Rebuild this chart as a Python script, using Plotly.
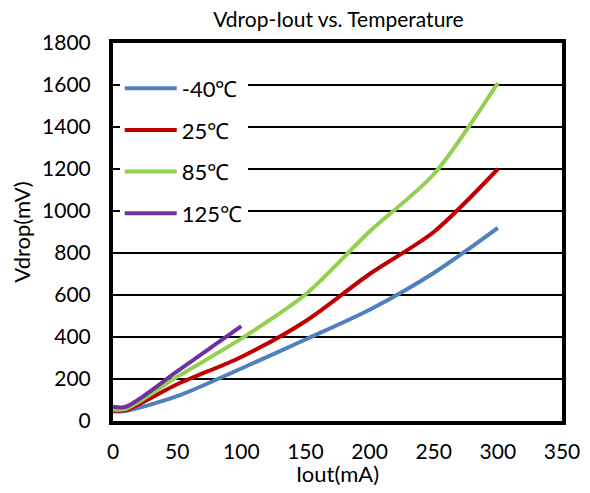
import plotly.graph_objects as go

iout = [0, 10, 50, 100, 150, 200, 250, 300]
v_m40 = [45, 48, 118, 250, 388, 530, 705, 920]
v_25 = [50, 52, 175, 305, 475, 700, 900, 1200]
v_85 = [55, 58, 210, 392, 602, 902, 1175, 1610]
iout_125 = [0, 10, 50, 100]
v_125 = [68, 68, 236, 452]

names = ["-40℃", "25℃", "85℃", "125℃"]
colors = ["#4F81BD", "#C00000", "#92D050", "#7030A0"]

FONT = "Lato"

fig = go.Figure()
series = [(iout, v_m40), (iout, v_25), (iout, v_85), (iout_125, v_125)]
for i, ((xs, ys), n, c) in enumerate(zip(series, names, colors)):
    fig.add_trace(go.Scatter(x=xs, y=ys, name=n, mode="lines", legendgroup=f"g{i}",
                             line=dict(color=c, width=4, shape="spline", smoothing=0.8)))

fig.update_layout(
    width=590, height=493,
    margin=dict(l=105, r=36, t=35, b=80, autoexpand=False),
    paper_bgcolor="white", plot_bgcolor="white",
    font=dict(family=FONT, size=21, color="black"),
    title=dict(text="Vdrop-Iout vs. Temperature", x=0.56, xanchor="center",
               y=0.977, yanchor="middle", font=dict(size=21)),
    showlegend=True,
    legend=dict(x=0.015, y=0.935, xanchor="left", yanchor="top",
                bgcolor="white", font=dict(size=22), tracegroupgap=10,
                itemwidth=52),
    annotations=[dict(text="Iout(mA)", xref="paper", yref="paper", x=0.5, y=-0.14,
                      xanchor="center", yanchor="middle", showarrow=False,
                      font=dict(size=22))],
)
fig.update_xaxes(range=[0, 350], dtick=50, showgrid=False, zeroline=False,
                 showline=True, linecolor="black", linewidth=4, mirror=True,
                 ticks="", ticklabelstandoff=9, automargin=False)
fig.update_yaxes(range=[0, 1800], dtick=200, showgrid=True, gridcolor="black",
                 gridwidth=2, zeroline=False,
                 showline=True, linecolor="black", linewidth=4, mirror=True,
                 ticks="", ticklabelstandoff=14, automargin=False,
                 title=dict(text="Vdrop(mV)", standoff=14, font=dict(size=22)))

fig.write_html("out.html")
